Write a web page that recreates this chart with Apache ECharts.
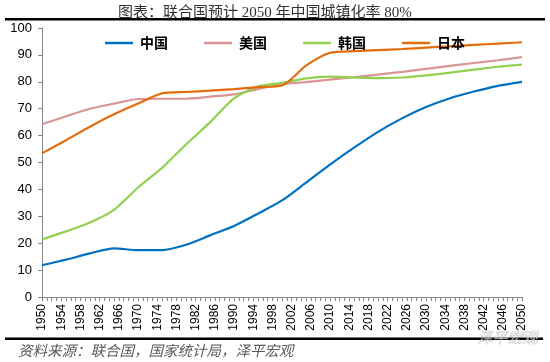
<!DOCTYPE html>
<html>
<head>
<meta charset="utf-8">
<script src="https://cdn.jsdelivr.net/npm/echarts@6/dist/echarts.min.js"></script>
<style>html,body{margin:0;padding:0;background:#fff}#c{width:550px;height:362px}</style>
</head>
<body>
<div id="c"></div>
<script>
var titleText = '图表：联合国预计 2050 年中国城镇化率 80%';
var sourceText = '资料来源：联合国，国家统计局，泽平宏观';
var seriesNames = ['中国', '美国', '韩国', '日本'];
var years = [1950,1955,1960,1965,1970,1975,1980,1985,1990,1995,2000,2005,2010,2015,2020,2025,2030,2035,2040,2045,2050];
var china = [11.8,13.9,16.2,18.1,17.4,17.4,19.4,22.9,26.4,31.0,35.9,42.5,49.2,55.5,61.4,66.4,70.6,73.9,76.4,78.5,80.0];
var usa   = [64.2,67.2,70.0,71.9,73.6,73.7,73.7,74.5,75.3,77.3,79.1,79.9,80.8,81.7,82.7,83.7,84.8,85.9,87.0,88.0,89.2];
var korea = [21.4,24.4,27.7,32.4,40.7,48.0,56.7,64.9,73.8,78.2,79.6,81.3,81.9,81.6,81.4,81.6,82.4,83.4,84.5,85.6,86.4];
var japan = [53.4,58.3,63.3,67.9,71.9,75.7,76.2,76.7,77.3,78.0,78.6,86.0,90.8,91.4,91.8,92.2,92.7,93.2,93.7,94.2,94.7];
var colors = ['#0070C0', '#D99694', '#92D050', '#E46C0A'];

function pairs(vals){ return years.map(function(y,i){ return [y, vals[i]]; }); }
var allVals = [china, usa, korea, japan];

var chart = echarts.init(document.getElementById('c'), null, {renderer:'canvas'});
chart.setOption({
  animation: false,
  backgroundColor: '#fff',
  title: {
    text: titleText, left: 113, top: 1,
    textStyle: {fontFamily: '"Liberation Serif","Noto Sans CJK SC",serif', fontSize: 15, fontWeight: 'normal', color: '#333'}
  },
  legend: {
    data: seriesNames, left: 100, top: 31, itemWidth: 28, itemHeight: 2.5, itemGap: 36, icon: 'rect',
    textStyle: {fontFamily: '"Noto Sans CJK SC",sans-serif', fontSize: 14, fontWeight: 'bold', color: '#000', padding:[0,0,0,2]}
  },
  grid: {left: 42, right: 28, top: 28, bottom: 65},
  xAxis: {
    type: 'value', min: 1950, max: 2050, interval: 4,
    axisLine: {show: true, lineStyle: {color: '#868686', width: 1}},
    axisTick: {show: true, length: 4, lineStyle: {color: '#868686'}},
    minorTick: {show: true, splitNumber: 4, length: 4, lineStyle: {color: '#868686'}},
    splitLine: {show: false},
    axisLabel: {rotate: 90, fontSize: 12, color: '#000', margin: 7, fontFamily: '"Liberation Sans",sans-serif',
      formatter: function(v){ return String(v); }}
  },
  yAxis: {
    type: 'value', min: 0, max: 100, interval: 10,
    axisLine: {show: true, lineStyle: {color: '#868686', width: 1}},
    axisTick: {show: true, length: 4, lineStyle: {color: '#868686'}},
    splitLine: {show: false},
    axisLabel: {fontSize: 13, color: '#000', margin: 10, fontFamily: '"Liberation Sans",sans-serif'}
  },
  series: seriesNames.map(function(n, i){
    return {
      name: n, type: 'line', data: pairs(allVals[i]), symbol: 'none', smooth: 0.25,
      lineStyle: {color: colors[i], width: 2.2}, itemStyle: {color: colors[i]}
    };
  }),
  graphic: [
    {type: 'rect', shape: {x: 5, y: 18, width: 540, height: 2.5}, style: {fill: '#000'}},
    {type: 'rect', shape: {x: 5, y: 337.5, width: 538, height: 2.5}, style: {fill: '#000'}},
    {type: 'text', left: 18, top: 343, style: {text: sourceText, fontSize: 14.5, fontStyle: 'italic',
      fontFamily: '"Noto Sans CJK SC",sans-serif', fill: '#595959'}},
    {type: 'text', left: 477, top: 329, style: {text: '泽平宏观', fontSize: 15, fontStyle: 'italic',
      fontFamily: '"Noto Sans CJK SC",sans-serif', fill: 'rgba(255,255,255,0.5)', stroke: 'rgba(150,150,150,0.5)', lineWidth: 0.8}}
  ]
});
</script>
</body>
</html>
